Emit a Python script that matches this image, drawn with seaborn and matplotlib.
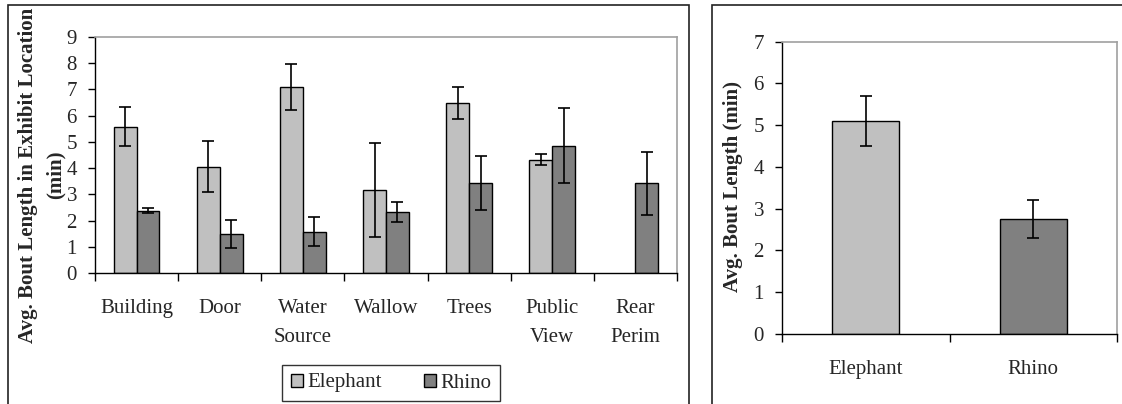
import numpy as np
import pandas as pd
import matplotlib
matplotlib.use("Agg")
import matplotlib.pyplot as plt
from matplotlib.patches import Rectangle
from matplotlib.ticker import FixedLocator
import seaborn as sns

# Bout length by exhibit location
locations = ["Building", "Door", "Water\nSource", "Wallow", "Trees", "Public\nView", "Rear\nPerim"]
elephant_mean = [5.58, 4.06, 7.10, 3.17, 6.48, 4.32, np.nan]
elephant_err = [0.74, 0.96, 0.87, 1.79, 0.62, 0.20, np.nan]
rhino_mean = [2.37, 1.48, 1.58, 2.33, 3.42, 4.86, 3.42]
rhino_err = [0.10, 0.53, 0.56, 0.39, 1.03, 1.43, 1.21]

# Overall bout length per species
species = ["Elephant", "Rhino"]
overall_mean = [5.10, 2.76]
overall_err = [0.60, 0.45]

colors = {"Elephant": "#C0C0C0", "Rhino": "#808080"}

sns.set_theme(style="white")
plt.rcParams["font.family"] = ["Liberation Serif", "DejaVu Serif"]

FS = 15

loc_df = pd.DataFrame({
    "Location": locations * 2,
    "Species": ["Elephant"] * len(locations) + ["Rhino"] * len(locations),
    "Mean": elephant_mean + rhino_mean,
    "Err": elephant_err + rhino_err,
})
loc_df = loc_df.dropna().reset_index(drop=True)

tot_df = pd.DataFrame({"Species": species, "Mean": overall_mean, "Err": overall_err})

W, H = 1122, 404
fig = plt.figure(figsize=(W / 100, H / 100), dpi=100)


def px_axes(x0, y0, x1, y1):
    return fig.add_axes([x0 / W, 1 - y1 / H, (x1 - x0) / W, (y1 - y0) / H])


def style_axes(ax, ymax, ncat):
    for side in ("left", "bottom"):
        ax.spines[side].set_color("black")
        ax.spines[side].set_linewidth(1.0)
    for side in ("top", "right"):
        ax.spines[side].set_visible(True)
        ax.spines[side].set_color("#A0A0A0")
        ax.spines[side].set_linewidth(1.2)
    ax.set_ylim(0, ymax)
    ax.set_xlim(-0.5, ncat - 0.5)
    ax.set_yticks(range(0, ymax + 1))
    ax.tick_params(axis="y", which="major", direction="out", length=5, width=1,
                   color="black", labelsize=FS, pad=8, left=True)
    ax.tick_params(axis="x", which="major", length=0, labelsize=FS, pad=19)
    ax.xaxis.set_minor_locator(FixedLocator(np.arange(-0.5, ncat, 1.0)))
    ax.tick_params(axis="x", which="minor", direction="out", length=6, width=1,
                   color="black", bottom=True)
    ax.grid(False)
    ax.set_xlabel("")


def add_errorbars(ax, container, means, errs):
    xs = [p.get_x() + p.get_width() / 2 for p in container.patches]
    ax.errorbar(xs, means, yerr=errs, fmt="none", ecolor="black",
                elinewidth=1.2, capsize=4.5, capthick=1.2, zorder=5)


# Left panel: by location
ax1 = px_axes(95, 37, 677, 273)
sns.barplot(data=loc_df, x="Location", y="Mean", hue="Species", order=locations,
            hue_order=species, palette=colors, width=0.55, edgecolor="black",
            linewidth=1.0, saturation=1, errorbar=None, legend=False, ax=ax1)
for cont, sp in zip(ax1.containers, species):
    sub = loc_df[loc_df["Species"] == sp]
    add_errorbars(ax1, cont, sub["Mean"].values, sub["Err"].values)
style_axes(ax1, 9, len(locations))
ax1.set_ylabel("Avg. Bout Length in Exhibit Location\n(min)", fontsize=FS,
               fontweight="bold", linespacing=1.55)
ax1.yaxis.set_label_coords(-0.050, 0.415)
for lab in ax1.get_xticklabels():
    lab.set_linespacing(1.7)

# Right panel: overall
ax2 = px_axes(782, 41.7, 1117, 334)
sns.barplot(data=tot_df, x="Species", y="Mean", hue="Species", order=species,
            hue_order=species, palette=colors, width=0.4, edgecolor="black",
            linewidth=1.0, saturation=1, errorbar=None, legend=False, dodge=False, ax=ax2)
for cont, sp in zip(ax2.containers, species):
    sub = tot_df[tot_df["Species"] == sp]
    add_errorbars(ax2, cont, sub["Mean"].values, sub["Err"].values)
style_axes(ax2, 7, len(species))
ax2.set_ylabel("Avg. Bout Length (min)", fontsize=FS, fontweight="bold")
ax2.yaxis.set_label_coords(-0.116, 0.505)

# Shared legend under the left panel
handles = [Rectangle((0, 0), 1, 1, facecolor=colors[s], edgecolor="black", linewidth=1.0)
           for s in species]
fig.legend(handles, species, loc="center", bbox_to_anchor=(391 / W, 1 - 383 / H),
           ncol=2, fontsize=FS, frameon=True, fancybox=False, edgecolor="black",
           handlelength=0.6, handleheight=0.6, handletextpad=0.2, columnspacing=2.0,
           borderpad=0.4, borderaxespad=0)
fig.legends[0].get_frame().set_linewidth(1.0)

# Chart frames
for x0, x1 in ((8, 689), (712, 1130)):
    fig.add_artist(Rectangle((x0 / W, -0.1), (x1 - x0) / W, 1.1 - 5 / H,
                             transform=fig.transFigure, fill=False,
                             edgecolor="#222222", linewidth=1.2))

fig.savefig("out.png", dpi=100)
